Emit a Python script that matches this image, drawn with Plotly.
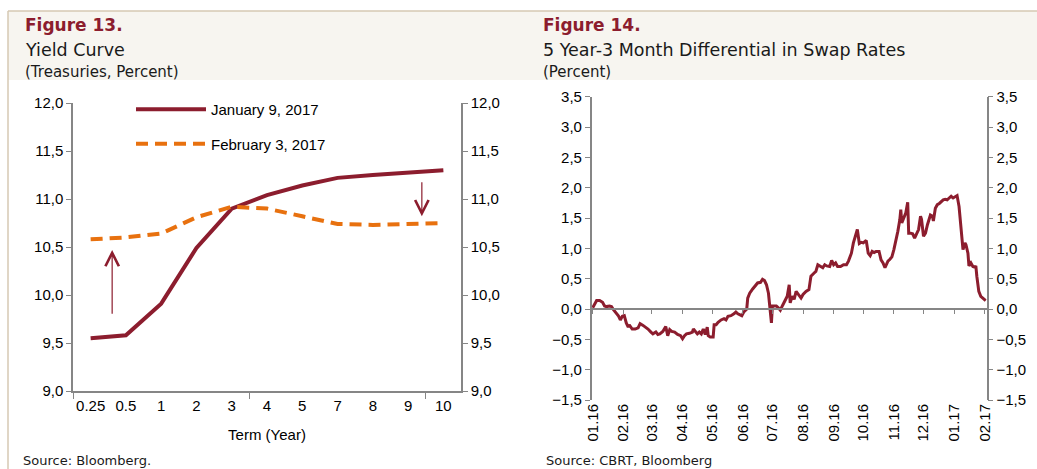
import plotly.graph_objects as go

W, H = 1037, 469

# ---------------- Figure 13 data: yield curve ----------------
terms = ["0.25", "0.5", "1", "2", "3", "4", "5", "7", "8", "9", "10"]
jan9 = [9.55, 9.58, 9.91, 10.49, 10.90, 11.04, 11.14, 11.22, 11.25, 11.27, 11.30]
feb3 = [10.58, 10.60, 10.64, 10.81, 10.92, 10.90, 10.82, 10.74, 10.73, 10.74, 10.75]

# ---------------- Figure 14 data: 5Y-3M swap differential ----------------
swap_dates = [
    "2016-01-01", "2016-01-03", "2016-01-05", "2016-01-08", "2016-01-11", "2016-01-13",
    "2016-01-15", "2016-01-18", "2016-01-20", "2016-01-22", "2016-01-25", "2016-01-27",
    "2016-01-29", "2016-01-31", "2016-02-02", "2016-02-04", "2016-02-06", "2016-02-07",
    "2016-02-10", "2016-02-13", "2016-02-16", "2016-02-18", "2016-02-21", "2016-02-24",
    "2016-02-26", "2016-02-29", "2016-03-02", "2016-03-05", "2016-03-07", "2016-03-09",
    "2016-03-12", "2016-03-15", "2016-03-17", "2016-03-19", "2016-03-21", "2016-03-24",
    "2016-03-27", "2016-03-30", "2016-04-01", "2016-04-03", "2016-04-05", "2016-04-08",
    "2016-04-11", "2016-04-12", "2016-04-14", "2016-04-16", "2016-04-18", "2016-04-20",
    "2016-04-22", "2016-04-24", "2016-04-26", "2016-04-27", "2016-04-29", "2016-05-02",
    "2016-05-03", "2016-05-05", "2016-05-07", "2016-05-10", "2016-05-13", "2016-05-15",
    "2016-05-17", "2016-05-20", "2016-05-23", "2016-05-25", "2016-05-27", "2016-05-29",
    "2016-05-31", "2016-06-02", "2016-06-05", "2016-06-06", "2016-06-08", "2016-06-11",
    "2016-06-14", "2016-06-16", "2016-06-19", "2016-06-21", "2016-06-23", "2016-06-25",
    "2016-06-27", "2016-06-29", "2016-06-30", "2016-07-01", "2016-07-03", "2016-07-05",
    "2016-07-07", "2016-07-09", "2016-07-11", "2016-07-13", "2016-07-16", "2016-07-18",
    "2016-07-19", "2016-07-21", "2016-07-23", "2016-07-25", "2016-07-27", "2016-07-30",
    "2016-08-01", "2016-08-04", "2016-08-07", "2016-08-09", "2016-08-12", "2016-08-14",
    "2016-08-16", "2016-08-19", "2016-08-21", "2016-08-23", "2016-08-25", "2016-08-28",
    "2016-08-30", "2016-09-01", "2016-09-03", "2016-09-05", "2016-09-08", "2016-09-11",
    "2016-09-14", "2016-09-16", "2016-09-19", "2016-09-21", "2016-09-23", "2016-09-25",
    "2016-09-27", "2016-09-29", "2016-10-01", "2016-10-04", "2016-10-06", "2016-10-08",
    "2016-10-10", "2016-10-12", "2016-10-14", "2016-10-17", "2016-10-19", "2016-10-21",
    "2016-10-23", "2016-10-24", "2016-10-26", "2016-10-28", "2016-10-30", "2016-11-01",
    "2016-11-03", "2016-11-05", "2016-11-07", "2016-11-08", "2016-11-09", "2016-11-11",
    "2016-11-13", "2016-11-15", "2016-11-16", "2016-11-18", "2016-11-20", "2016-11-22",
    "2016-11-24", "2016-11-26", "2016-11-28", "2016-11-29", "2016-12-01", "2016-12-03",
    "2016-12-05", "2016-12-06", "2016-12-08", "2016-12-10", "2016-12-11", "2016-12-13",
    "2016-12-15", "2016-12-17", "2016-12-19", "2016-12-21", "2016-12-23", "2016-12-25",
    "2016-12-27", "2016-12-29", "2016-12-31", "2017-01-02", "2017-01-04", "2017-01-06",
    "2017-01-08", "2017-01-10", "2017-01-12", "2017-01-13", "2017-01-15", "2017-01-16",
    "2017-01-18", "2017-01-20", "2017-01-22", "2017-01-23", "2017-01-24", "2017-01-26",
    "2017-01-28", "2017-01-31", "2017-02-02",
]
swap_spread = [
    0.02, 0.07, 0.14, 0.14, 0.11, 0.05,
    0.04, 0.05, 0.04, -0.01, -0.07, -0.11,
    -0.18, -0.12, -0.11, -0.23, -0.30, -0.26,
    -0.33, -0.33, -0.31, -0.24, -0.27, -0.30,
    -0.33, -0.38, -0.41, -0.38, -0.42, -0.41,
    -0.37, -0.29, -0.44, -0.34, -0.37, -0.38,
    -0.42, -0.44, -0.49, -0.44, -0.41, -0.40,
    -0.38, -0.33, -0.38, -0.41, -0.38, -0.41,
    -0.33, -0.42, -0.30, -0.44, -0.46, -0.46,
    -0.26, -0.26, -0.22, -0.18, -0.16, -0.18,
    -0.12, -0.11, -0.08, -0.05, -0.08, -0.09,
    -0.11, -0.05, 0.00, 0.18, 0.26, 0.33,
    0.38, 0.43, 0.44, 0.49, 0.47, 0.40,
    0.26, -0.01, -0.23, 0.05, 0.05, 0.05,
    0.02, -0.02, 0.05, 0.11, 0.21, 0.40,
    0.10, 0.21, 0.16, 0.29, 0.24, 0.18,
    0.24, 0.29, 0.32, 0.54, 0.59, 0.62,
    0.73, 0.70, 0.68, 0.73, 0.71, 0.70,
    0.80, 0.73, 0.76, 0.70, 0.70, 0.73,
    0.73, 0.79, 0.92, 1.09, 1.20, 1.31,
    1.08, 1.10, 1.09, 1.13, 0.92, 0.88,
    0.95, 0.93, 0.95, 0.95, 0.81, 0.76,
    0.68, 0.71, 0.79, 0.82, 0.86, 0.98,
    1.12, 1.28, 1.47, 1.64, 1.42, 1.50,
    1.58, 1.76, 1.25, 1.25, 1.24, 1.17,
    1.25, 1.31, 1.53, 1.48, 1.20, 1.25,
    1.39, 1.45, 1.55, 1.53, 1.45, 1.66,
    1.72, 1.74, 1.77, 1.80, 1.81, 1.80,
    1.83, 1.86, 1.83, 1.85, 1.87, 1.69,
    1.31, 0.98, 1.09, 1.06, 0.92, 0.71,
    0.76, 0.70, 0.69, 0.71, 0.54, 0.29,
    0.21, 0.16, 0.14,
]

# ---------------- styling ----------------
DARK_RED = "#8C1D2E"
ORANGE = "#E8710F"
AXIS_GREY = "#868686"
HEADER_BG = "#F7F5F0"
HEADER_LINE = "#D6C9B3"
TICK_FONT = dict(family="Liberation Sans, Arial, sans-serif", size=15, color="#000000")
HEAD_FONT = "DejaVu Sans, sans-serif"


def px(x):
    return x / W


def py(y):
    return 1 - y / H


# plot-area geometry (pixels)
L_X0, L_X1, L_Y0, L_Y1 = 73, 461, 103, 391
R_X0, R_X1, R_Y0, R_Y1 = 591.7, 986.7, 96.7, 400
r_ydom = [py(R_Y1), py(R_Y0)]
zero_pos = r_ydom[0] + (0 - (-1.5)) / (3.5 - (-1.5)) * (r_ydom[1] - r_ydom[0])
date_range = ["2015-12-31", "2017-02-03"]

fig = go.Figure()

idx = list(range(len(terms)))
fig.add_trace(go.Scatter(
    x=idx, y=jan9, mode="lines", name="January 9, 2017",
    line=dict(color=DARK_RED, width=4), xaxis="x", yaxis="y",
    legendgroup="a", hoverinfo="skip",
))
fig.add_trace(go.Scatter(
    x=idx, y=feb3, mode="lines", name="February 3, 2017",
    line=dict(color=ORANGE, width=4, dash="12px,7px"), xaxis="x", yaxis="y2",
    legendgroup="b", hoverinfo="skip",
))
fig.add_trace(go.Scatter(
    x=swap_dates, y=swap_spread, mode="lines", showlegend=False,
    line=dict(color=DARK_RED, width=3), xaxis="x3", yaxis="y3", hoverinfo="skip",
))
# invisible helper trace so that the secondary (label / right) axes are drawn
fig.add_trace(go.Scatter(
    x=swap_dates, y=swap_spread, mode="lines", showlegend=False,
    line=dict(color="rgba(0,0,0,0)", width=0), xaxis="x4", yaxis="y4", hoverinfo="skip",
))

common_y = dict(
    ticks="outside", ticklen=5, tickwidth=1.2, tickcolor=AXIS_GREY,
    showline=True, linecolor=AXIS_GREY, linewidth=1.5, showgrid=False,
    zeroline=False, tickfont=TICK_FONT, tickformat=".1f", dtick=0.5,
)

layout = dict(
    width=W, height=H, margin=dict(l=0, r=0, t=0, b=0, pad=0, autoexpand=False),
    autosize=False,
    paper_bgcolor="white", plot_bgcolor="rgba(0,0,0,0)",
    separators=", ", showlegend=True,
    xaxis=dict(
        domain=[px(L_X0), px(L_X1)], range=[-0.5, 10.5], anchor="y",
        tickmode="array", tickvals=idx, ticktext=terms, ticks="",
        showline=True, linecolor=AXIS_GREY, linewidth=1.5, showgrid=False,
        zeroline=False, tickfont=TICK_FONT,
        minor=dict(tickmode="linear", tick0=-0.5, dtick=5, ticks="outside",
                   ticklen=6, tickwidth=1.2, tickcolor=AXIS_GREY, showgrid=False),
        title=dict(text="Term (Year)", font=TICK_FONT, standoff=17),
    ),
    yaxis=dict(domain=[py(L_Y1), py(L_Y0)], range=[9, 12], anchor="x", side="left", **common_y),
    yaxis2=dict(range=[9, 12], anchor="x", overlaying="y", side="right", **common_y),
    xaxis3=dict(
        domain=[px(R_X0), px(R_X1)], type="date",
        range=date_range, anchor="free", position=zero_pos,
        tickmode="linear", tick0="2016-01-01", dtick="M1",
        ticks="outside", ticklen=4, tickwidth=1.2, tickcolor=AXIS_GREY,
        showticklabels=False, showline=True, linecolor=AXIS_GREY, linewidth=1.5,
        showgrid=False, zeroline=False,
    ),
    xaxis4=dict(
        type="date", range=date_range, overlaying="x3", anchor="y3", side="bottom",
        tickmode="linear", tick0="2016-01-01", dtick="M1", tickformat="%m.%y",
        tickangle=-90, ticks="", showline=False, showgrid=False, zeroline=False,
        tickfont=TICK_FONT,
    ),
    yaxis3=dict(domain=r_ydom, range=[-1.5, 3.5], anchor="x3", side="left", **common_y),
    yaxis4=dict(range=[-1.5, 3.5], anchor="x3", overlaying="y3", side="right", **common_y),
    legend=dict(
        x=px(131), y=py(93), xanchor="left", yanchor="top",
        bgcolor="rgba(0,0,0,0)", borderwidth=0, itemwidth=70,
        tracegroupgap=12, font=TICK_FONT,
    ),
)
fig.update_layout(**layout)

# header band and panel borders
fig.add_shape(type="rect", xref="paper", yref="paper", x0=px(8), x1=1, y0=py(80), y1=py(11),
              fillcolor=HEADER_BG, line=dict(width=0), layer="below")
fig.add_shape(type="line", xref="paper", yref="paper", x0=px(8), x1=1, y0=py(11), y1=py(11),
              line=dict(color=HEADER_LINE, width=1.5))
fig.add_shape(type="line", xref="paper", yref="paper", x0=px(8), x1=px(8), y0=0, y1=py(11),
              line=dict(color=HEADER_LINE, width=1.5))

texts = [
    (23, 25, "<b>Figure 13.</b>", 17, DARK_RED),
    (23, 50, "Yield Curve", 17.5, "#1a1a1a"),
    (23, 72, "(Treasuries, Percent)", 15, "#1a1a1a"),
    (541, 25, "<b>Figure 14.</b>", 17, DARK_RED),
    (541, 50, "5 Year-3 Month Differential in Swap Rates", 17.5, "#1a1a1a"),
    (541, 72, "(Percent)", 15, "#1a1a1a"),
    (21, 460, "Source: Bloomberg.", 13, "#1a1a1a"),
    (544, 460, "Source: CBRT, Bloomberg", 13, "#1a1a1a"),
]
for x, y, t, s, c in texts:
    fig.add_annotation(xref="paper", yref="paper", x=px(x), y=py(y), text=t,
                       showarrow=False, xanchor="left", yanchor="middle",
                       font=dict(family=HEAD_FONT, size=s, color=c))

# arrows showing the direction of change
for xh, yh, yt in [(0.61, 10.47, 9.79), (9.39, 10.82, 11.19)]:
    fig.add_annotation(xref="x", yref="y", axref="x", ayref="y",
                       x=xh, y=yh, ax=xh, ay=yt, text="", showarrow=True,
                       arrowhead=5, arrowsize=2.2, arrowwidth=1.2, arrowcolor=DARK_RED,
                       standoff=0, startstandoff=0)

fig.write_html(
    "out.html",
    config={"displayModeBar": False},
    post_script="document.body.style.margin='0px';document.body.style.overflow='hidden';",
)
